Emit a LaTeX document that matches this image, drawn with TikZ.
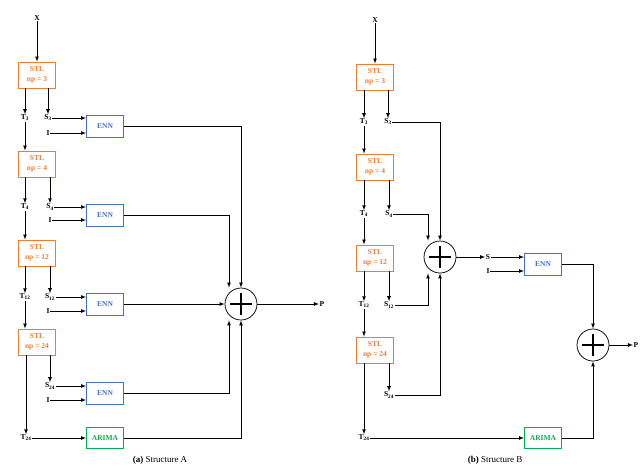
\documentclass[tikz,border=0pt]{standalone}
\usepackage{fontspec}
\setmainfont{Liberation Serif}
\usepackage{tikz}
\usetikzlibrary{arrows, positioning}
\definecolor{stlorange}{RGB}{237,125,49}
\definecolor{ennblue}{RGB}{68,114,196}
\definecolor{arimagreen}{RGB}{0,176,80}
\tikzset{
  lbl/.style={inner sep=0.5pt, font=\fontsize{7.5}{8}\selectfont\bfseries},
  stl/.style={draw=stlorange, line width=0.9pt, text=stlorange, minimum width=37pt, minimum height=26pt, align=center, inner sep=1pt, font=\fontsize{7.5}{9.5}\selectfont\bfseries},
  enn/.style={draw=ennblue, line width=0.9pt, text=ennblue, minimum width=37pt, minimum height=22pt, inner sep=1pt, font=\fontsize{7.5}{8}\selectfont\bfseries},
  arima/.style={draw=arimagreen, line width=0.9pt, text=arimagreen, minimum width=37pt, minimum height=21pt, inner sep=1pt, font=\fontsize{7.5}{8}\selectfont\bfseries},
  sum/.style={draw, circle, line width=0.75pt, minimum size=32pt, inner sep=0pt,
    path picture={\draw[line width=2.4pt] ([yshift=-5pt]path picture bounding box.north) -- ([yshift=5pt]path picture bounding box.south);
                  \draw[line width=2.4pt] ([xshift=5pt]path picture bounding box.west) -- ([xshift=-5pt]path picture bounding box.east);}},
  arr/.style={-latex, line width=0.75pt}
}
\begin{document}
\begin{tikzpicture}[x=1pt,y=1pt,yscale=-1,xscale=1]
\useasboundingbox (0,0) rectangle (640,467);

%% Structure A
\node[lbl] (xa) at (37,18) {X};
\node[stl] (stla1) at (37,75) {STL\\np = 3};
\node[lbl] (ta3) at (25,118) {T\textsubscript{3}};
\node[lbl] (sa3) at (48,118) {S\textsubscript{3}};
\node[lbl] (ia1) at (48,133) {I};
\node[enn] (enna1) at (105,126) {ENN};
\node[stl] (stla2) at (37,164) {STL\\np = 4};
\node[lbl] (ta4) at (25,207) {T\textsubscript{4}};
\node[lbl] (sa4) at (50,207) {S\textsubscript{4}};
\node[lbl] (ia2) at (50,220) {I};
\node[enn] (enna2) at (105,215) {ENN};
\node[stl] (stla3) at (37,253) {STL\\np = 12};
\node[lbl] (ta12) at (25,297) {T\textsubscript{12}};
\node[lbl] (sa12) at (50,297) {S\textsubscript{12}};
\node[lbl] (ia3) at (48,311) {I};
\node[enn] (enna3) at (105,304) {ENN};
\node[stl] (stla4) at (37,342) {STL\\np = 24};
\node[lbl] (sa24) at (50,386) {S\textsubscript{24}};
\node[lbl] (ia4) at (48,400) {I};
\node[enn] (enna4) at (105,393) {ENN};
\node[lbl] (ta24) at (26,438) {T\textsubscript{24}};
\node[arima] (arimaa) at (105,438) {ARIMA};
\node[sum] (suma) at (241,304) {};
\node[lbl] (pa) at (322,304) {P};

\draw[arr] (xa) -- (stla1);
\draw[arr] (stla1.south -| ta3) -- (ta3);
\draw[arr] (stla1.south -| sa3) -- (sa3);
\draw[arr] (ta3) -- (stla2.north -| ta3);
\draw[arr] (stla2.south -| ta4) -- (ta4);
\draw[arr] (stla2.south -| sa4) -- (sa4);
\draw[arr] (ta4) -- (stla3.north -| ta4);
\draw[arr] (stla3.south -| ta12) -- (ta12);
\draw[arr] (stla3.south -| sa12) -- (sa12);
\draw[arr] (ta12) -- (stla4.north -| ta12);
\draw[arr] (stla4.south -| sa24) -- (sa24);
\draw[arr] (stla4.south -| ta24) -- (ta24);
\foreach \s/\i/\e in {sa3/ia1/enna1, sa4/ia2/enna2, sa12/ia3/enna3, sa24/ia4/enna4}{
  \draw[arr] (\s) -- (\e.west |- \s);
  \draw[arr] (\i) -- (\e.west |- \i);
}
\draw[arr] (ta24) -- (arimaa);
\draw[arr] (enna1) -| (suma.north);
\draw[arr] (enna2) -| ([xshift=-12pt]suma.north);
\draw[arr] (enna3) -- (suma);
\draw[arr] (enna4) -| ([xshift=-12pt]suma.south);
\draw[arr] (arimaa) -| (suma.south);
\draw[arr] (suma) -- (pa);

%% Structure B
\node[lbl] (xb) at (375,20) {X};
\node[stl] (stlb1) at (375,77) {STL\\np = 3};
\node[lbl] (tb3) at (364,122) {T\textsubscript{3}};
\node[lbl] (sb3) at (388,122) {S\textsubscript{3}};
\node[stl] (stlb2) at (375,167) {STL\\np = 4};
\node[lbl] (tb4) at (364,214) {T\textsubscript{4}};
\node[lbl] (sb4) at (389,214) {S\textsubscript{4}};
\node[stl] (stlb3) at (375,258) {STL\\np = 12};
\node[lbl] (tb12) at (364,305) {T\textsubscript{12}};
\node[lbl] (sb12) at (389,305) {S\textsubscript{12}};
\node[stl] (stlb4) at (375,350) {STL\\np = 24};
\node[lbl] (sb24) at (389,395) {S\textsubscript{24}};
\node[lbl] (tb24) at (364,438) {T\textsubscript{24}};
\node[sum] (sumb1) at (440,257) {};
\node[lbl] (sb) at (488,257) {S};
\node[lbl] (ib) at (488,271) {I};
\node[enn] (ennb) at (543,264) {ENN};
\node[arima] (arimab) at (543,438) {ARIMA};
\node[sum] (sumb2) at (593,345) {};
\node[lbl] (pb) at (636,345) {P};

\draw[arr] (xb) -- (stlb1);
\draw[arr] (stlb1.south -| tb3) -- (tb3);
\draw[arr] (stlb1.south -| sb3) -- (sb3);
\draw[arr] (tb3) -- (stlb2.north -| tb3);
\draw[arr] (stlb2.south -| tb4) -- (tb4);
\draw[arr] (stlb2.south -| sb4) -- (sb4);
\draw[arr] (tb4) -- (stlb3.north -| tb4);
\draw[arr] (stlb3.south -| tb12) -- (tb12);
\draw[arr] (stlb3.south -| sb12) -- (sb12);
\draw[arr] (tb12) -- (stlb4.north -| tb12);
\draw[arr] (stlb4.south -| sb24) -- (sb24);
\draw[arr] (stlb4.south -| tb24) -- (tb24);
\draw[arr] (sb3) -| (sumb1.north);
\draw[arr] (sb4) -| ([xshift=-12pt]sumb1.north);
\draw[arr] (sb12) -| ([xshift=-12pt]sumb1.south);
\draw[arr] (sb24) -| (sumb1.south);
\draw[arr] (sumb1) -- (sb);
\draw[arr] (sb) -- (ennb.west |- sb);
\draw[arr] (ib) -- (ennb.west |- ib);
\draw[arr] (tb24.east) -- (arimab.west |- tb24);
\draw[arr] (ennb) -| (sumb2);
\draw[arr] (arimab) -| (sumb2);
\draw[arr] (sumb2) -- (pb);

% Captions
\node[font=\fontsize{9}{10}\selectfont] (capa) at (160,460) {\textbf{(a)} Structure A};
\node[font=\fontsize{9}{10}\selectfont] (capb) at (495,460) {\textbf{(b)} Structure B};
\end{tikzpicture}
\end{document}
